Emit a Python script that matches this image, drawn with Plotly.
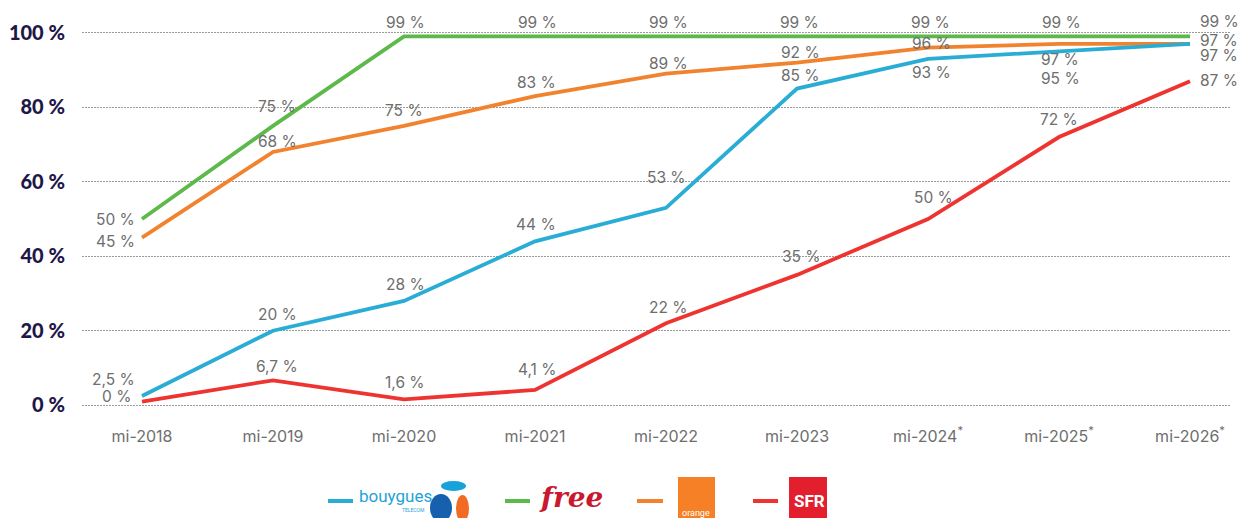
import plotly.graph_objects as go

# ---------------- data ----------------
categories = ["mi-2018", "mi-2019", "mi-2020", "mi-2021", "mi-2022", "mi-2023",
              "mi-2024<sup>*</sup>", "mi-2025<sup>*</sup>", "mi-2026<sup>*</sup>"]

free_values = [50, 75, 99, 99, 99, 99, 99, 99, 99]
orange_values = [45, 68, 75, 83, 89, 92, 96, 97, 97]
bouygues_values = [2.5, 20, 28, 44, 53, 85, 93, 95, 97]
sfr_values = [1, 6.7, 1.6, 4.1, 22, 35, 50, 72, 87]

free_labels = ["50 %", "75 %", "99 %", "99 %", "99 %", "99 %", "99 %", "99 %", "99 %"]
orange_labels = ["45 %", "68 %", "75 %", "83 %", "89 %", "92 %", "96 %", "97 %", "97 %"]
bouygues_labels = ["2,5 %", "20 %", "28 %", "44 %", "53 %", "85 %", "93 %", "95 %", "97 %"]
sfr_labels = ["0 %", "6,7 %", "1,6 %", "4,1 %", "22 %", "35 %", "50 %", "72 %", "87 %"]

y_tickvals = [0, 20, 40, 60, 80, 100]
y_ticktext = ["0 %", "20 %", "40 %", "60 %", "80 %", "100 %"]

# ---------------- styles ----------------
C_BLUE = "#2AADD5"
C_GREEN = "#5DB94A"
C_ORANGE = "#F2832E"
C_RED = "#EE3431"
C_LABEL = "#6E6E6E"
C_NAVY = "#1F1748"
FONT = "Inter"

# label placement (xshift px, yshift px, xanchor) per point
C, Lf, Rt = "center", "left", "right"
free_pos = [(-5, 0, Rt), (4, 19, C), (1, 14, C), (2, 14, C), (2, 14, C), (2, 14, C),
            (2, 14, C), (2, 14, C), (8, 15, Lf)]
orange_pos = [(-5, -4, Rt), (4, 10, C), (0, 15, C), (1, 14, C), (2, 10, C), (3, 10, C),
              (3, 4, C), (1, -16, C), (8, 3, Lf)]
bouygues_pos = [(-5, 16, Rt), (4, 16, C), (1, 16, C), (1, 17, C), (0, 30, C), (3, 13, C),
                (3, -14, C), (1, -27, C), (8, -12, Lf)]
sfr_pos = [(-9, 5, Rt), (4, 14, C), (1, 17, C), (2, 21, C), (2, 16, C), (4, 18, C),
           (5, 22, C), (0, 18, C), (8, 1, Lf)]

series = [
    ("free", free_values, free_labels, free_pos, C_GREEN),
    ("orange", orange_values, orange_labels, orange_pos, C_ORANGE),
    ("bouygues", bouygues_values, bouygues_labels, bouygues_pos, C_BLUE),
    ("SFR", sfr_values, sfr_labels, sfr_pos, C_RED),
]

fig = go.Figure()
annotations = []
for name, vals, labs, pos, col in series:
    fig.add_trace(go.Scatter(
        x=categories, y=vals, mode="lines", name=name,
        line=dict(color=col, width=3.8), cliponaxis=False, showlegend=False,
    ))
    for cat, v, lab, (dx, dy, xa) in zip(categories, vals, labs, pos):
        annotations.append(dict(
            x=cat, y=v, xref="x", yref="y", text=lab, showarrow=False,
            xanchor=xa, yanchor="middle", xshift=dx, yshift=dy,
            font=dict(family=FONT, size=15.5, color=C_LABEL),
        ))

# ---------------- geometry ----------------
W, H = 1238, 518
L, R, T, B = 82, 1230, 29, 409


def px(x):
    return (x - L) / (R - L)


def py(y):
    return (B - y) / (B - T)


shapes = []
# custom legend
legend_items = [(328, 353, C_BLUE), (505, 530, C_GREEN), (637, 663, C_ORANGE), (753, 778, C_RED)]
for x0, x1, col in legend_items:
    shapes.append(dict(type="line", xref="paper", yref="paper",
                       x0=px(x0), x1=px(x1), y0=py(501), y1=py(501),
                       line=dict(color=col, width=4)))

# bouygues logo
annotations.append(dict(xref="paper", yref="paper", x=px(396), y=py(496), text="bouygues",
                        showarrow=False, xanchor="center", yanchor="middle",
                        font=dict(family="Liberation Sans Narrow, Roboto", size=17, color="#1FA3D8")))
annotations.append(dict(xref="paper", yref="paper", x=px(426), y=py(510), text="TELECOM",
                        showarrow=False, xanchor="right", yanchor="middle",
                        font=dict(family="Roboto", size=5, color="#1FA3D8")))
shapes.append(dict(type="circle", xref="paper", yref="paper", x0=px(441), x1=px(466),
                   y0=py(491), y1=py(481), fillcolor="#17A2D9", line=dict(width=0)))
shapes.append(dict(type="circle", xref="paper", yref="paper", x0=px(430), x1=px(452),
                   y0=py(522), y1=py(494), fillcolor="#1660AE", line=dict(width=0)))
shapes.append(dict(type="circle", xref="paper", yref="paper", x0=px(456), x1=px(469),
                   y0=py(522), y1=py(495), fillcolor="#F26B24", line=dict(width=0)))

# free logo
annotations.append(dict(xref="paper", yref="paper", x=px(571), y=py(497), text="free",
                        showarrow=False, xanchor="center", yanchor="middle",
                        font=dict(family="DejaVu Serif", size=28, color="#C8192E",
                                  style="italic", weight="bold")))

# orange logo
shapes.append(dict(type="rect", xref="paper", yref="paper", x0=px(678), x1=px(715),
                   y0=py(530), y1=py(477), fillcolor="#F58025", line=dict(width=0)))
annotations.append(dict(xref="paper", yref="paper", x=px(680), y=py(513), text="orange",
                        showarrow=False, xanchor="left", yanchor="middle",
                        font=dict(family="Roboto", size=9, color="white")))

# SFR logo
shapes.append(dict(type="rect", xref="paper", yref="paper", x0=px(789), x1=px(827),
                   y0=py(530), y1=py(477), fillcolor="#E41F2D", line=dict(width=0)))
annotations.append(dict(xref="paper", yref="paper", x=px(809), y=py(501), text="SFR",
                        showarrow=False, xanchor="center", yanchor="middle",
                        font=dict(family="Roboto", size=17, color="white", weight="bold")))

fig.update_layout(
    width=W, height=H,
    margin=dict(l=L, r=W - R, t=T, b=H - B, pad=0),
    paper_bgcolor="white", plot_bgcolor="white",
    annotations=annotations, shapes=shapes,
    showlegend=False,
)
fig.update_xaxes(
    type="category", range=[-0.458, 8.305], showgrid=False, zeroline=False,
    showline=False, ticks="", ticklabelstandoff=16,
    tickfont=dict(family=FONT, size=16, color=C_LABEL),
)
fig.update_yaxes(
    range=[-1, 101], tickvals=y_tickvals, ticktext=y_ticktext,
    showgrid=True, gridcolor="#9A9A9A", gridwidth=1, griddash="1.5px,1.5px",
    zeroline=False, showline=False, ticks="", ticklabelstandoff=16,
    tickfont=dict(family="Lato", size=20, color=C_NAVY, weight=900),
)

fig.write_html(
    "out.html",
    config={"displayModeBar": False},
    post_script="document.body.style.margin='0';document.body.style.overflow='hidden';",
)
